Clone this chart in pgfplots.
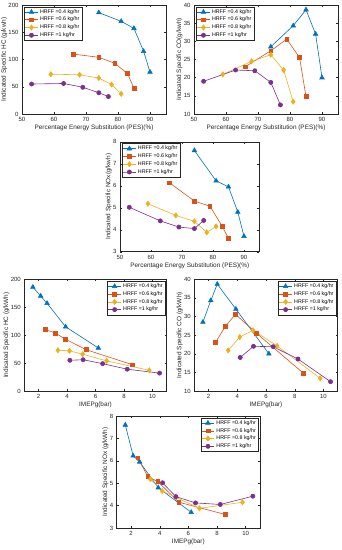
\documentclass[border=0pt]{standalone}
\usepackage{fontspec}
\setmainfont{Liberation Sans}
\usepackage{pgfplots}
\pgfplotsset{compat=1.18}
\definecolor{mblue}{rgb}{0,0.447,0.741}
\definecolor{mred}{rgb}{0.85,0.325,0.098}
\definecolor{myellow}{rgb}{0.929,0.694,0.125}
\definecolor{mpurple}{rgb}{0.494,0.184,0.556}
\definecolor{mtext}{rgb}{0.15,0.15,0.15}
\pgfplotsset{
  base/.style={
    scale only axis,
    axis line style={draw=mtext, line width=0.4pt},
    tick style={draw=mtext, line width=0.35pt},
    major tick length=2pt,
    tick align=inside,
    xtick pos=both, ytick pos=both,
    /pgf/number format/assume math mode=true,
    tick label style={font=\fontsize{6}{6.5}\selectfont, text=mtext},
    label style={font=\fontsize{6.4}{7}\selectfont, text=mtext},
    xlabel style={yshift=3.5pt},
    ylabel style={yshift=-5.5pt},
    legend style={font=\fontsize{5.3}{6}\selectfont, draw=mtext, line width=0.3pt, inner sep=0.6pt, row sep=-1.6pt, cells={anchor=west}},
    legend image code/.code={
      \draw[mark repeat=2,mark phase=2] plot coordinates {(0cm,0cm) (0.22cm,0cm) (0.44cm,0cm)};
    },
  },
  s1/.style={color=mblue, line width=0.6pt, mark=triangle*, mark size=2.6pt, mark options={solid, fill=mblue}},
  s2/.style={color=mred, line width=0.6pt, mark=square*, mark size=1.9pt, mark options={solid, fill=mred}},
  s3/.style={color=myellow, line width=0.6pt, mark=diamond*, mark size=2.6pt, mark options={solid, fill=myellow}},
  s4/.style={color=mpurple, line width=0.6pt, mark=*, mark size=2.1pt, mark options={solid, fill=mpurple}},
  pes/.style={base, xmin=50, xmax=95, xtick={50,60,70,80,90}, xlabel={Percentage Energy Substitution (PES)(\%)},
    legend style={at={(0.015,0.985)}, anchor=north west}},
  imep/.style={base, xmin=1, xmax=11, xtick={2,4,6,8,10}, xlabel={IMEPg(bar)},
    legend style={at={(0.99,0.985)}, anchor=north east}},
}
\begin{document}
\begin{tikzpicture}
\useasboundingbox (0,0) rectangle (342pt,550pt);
% Panel 1: HC vs PES
\begin{axis}[pes, at={(22pt,436pt)}, anchor=south west, width=144pt, height=109pt,
  ymin=0, ymax=200, ytick={0,50,100,150,200}, ylabel={Indicated Specific HC (g/kwh)}]
\addplot[s1] coordinates {(74,186) (81,170) (85,157) (88,115) (90,77)};
\addplot[s2] coordinates {(66,110) (74,104) (79,93) (83,74) (85,47)};
\addplot[s3] coordinates {(59,73) (68,72) (74,66) (78,54) (81,37)};
\addplot[s4] coordinates {(53,55) (63,56) (69,49) (74,39) (77,32)};
\legend{HRFF =0.4 kg/hr, HRFF =0.6 kg/hr, HRFF =0.8 kg/hr, HRFF =1 kg/hr}
\end{axis}
% Panel 2: CO vs PES
\begin{axis}[pes, at={(194pt,436pt)}, anchor=south west, width=144pt, height=109pt,
  ymin=10, ymax=40, ytick={10,15,20,25,30,35,40}, ylabel={Indicated Specific CO(g/kwh)}]
\addplot[s1] coordinates {(74,28.5) (81,34.3) (85,38.7) (88,32) (90,20)};
\addplot[s2] coordinates {(66,23) (74,27.4) (79,30.6) (83,25.5) (85,14.8)};
\addplot[s3] coordinates {(59,20.9) (68,24.5) (74,26.3) (78,22.1) (81,13.4)};
\addplot[s4] coordinates {(53,19) (63,22.1) (69,21.9) (74,18.7) (77,12.5)};
\legend{HRFF =0.4 kg/hr, HRFF =0.6 kg/hr, HRFF =0.8 kg/hr, HRFF =1 kg/hr}
\end{axis}
% Panel 3: NOx vs PES
\begin{axis}[pes, at={(120pt,298.3pt)}, anchor=south west, width=139.5pt, height=110pt,
  ymin=3, ymax=8, ytick={3,4,5,6,7,8}, ylabel={Indicated Specific NOx(g/kwh)}]
\addplot[s1] coordinates {(74,7.6) (81,6.22) (85,5.95) (88,4.8) (90,3.7)};
\addplot[s2] coordinates {(66,6.13) (74,5.3) (79,5.07) (83,4.15) (85,3.6)};
\addplot[s3] coordinates {(59,5.18) (68,4.65) (74,4.38) (78,3.88) (81,4.15)};
\addplot[s4] coordinates {(53,5.02) (63,4.4) (69,4.12) (74,4.05) (77,4.42)};
\legend{HRFF =0.4 kg/hr, HRFF =0.6 kg/hr, HRFF =0.8 kg/hr, HRFF =1 kg/hr}
\end{axis}
% Panel 4: HC vs IMEP
\begin{axis}[imep, at={(24.3pt,159pt)}, anchor=south west, width=142.4pt, height=111.7pt,
  ymin=0, ymax=200, ytick={0,50,100,150,200}, ylabel={Indicated Specific HC (g/kWh)}]
\addplot[s1] coordinates {(1.6,186) (2.15,170) (2.6,157) (3.9,115) (6.2,77)};
\addplot[s2] coordinates {(2.47,110) (3.17,104) (3.87,93) (5.34,74) (8.6,47)};
\addplot[s3] coordinates {(3.36,73) (4.17,72) (5.1,66) (6.78,54) (9.78,37)};
\addplot[s4] coordinates {(4.2,55) (5.13,56) (6.5,49) (8.23,39) (10.5,32)};
\legend{HRFF =0.4 kg/hr, HRFF =0.6 kg/hr, HRFF =0.8 kg/hr, HRFF =1 kg/hr}
\end{axis}
% Panel 5: CO vs IMEP
\begin{axis}[imep, at={(194.3pt,159pt)}, anchor=south west, width=143.4pt, height=111.7pt,
  ymin=10, ymax=40, ytick={10,15,20,25,30,35,40}, ylabel={Indicated Specific CO (g/kWh)}]
\addplot[s1] coordinates {(1.6,28.5) (2.15,34.3) (2.6,38.7) (3.9,32) (6.2,20)};
\addplot[s2] coordinates {(2.47,23) (3.17,27.4) (3.87,30.6) (5.34,25.5) (8.6,14.8)};
\addplot[s3] coordinates {(3.36,20.9) (4.17,24.5) (5.1,26.3) (6.78,22.1) (9.78,13.4)};
\addplot[s4] coordinates {(4.2,19) (5.13,22) (6.5,21.9) (8.23,18.6) (10.5,12.5)};
\legend{HRFF =0.4 kg/hr, HRFF =0.6 kg/hr, HRFF =0.8 kg/hr, HRFF =1 kg/hr}
\end{axis}
% Panel 6: NOx vs IMEP
\begin{axis}[imep, at={(116.7pt,22pt)}, anchor=south west, width=143.3pt, height=112pt,
  ymin=3, ymax=8, ytick={3,4,5,6,7,8}, ylabel={Indicated Specific NOx (g/kWh)}]
\addplot[s1] coordinates {(1.6,7.6) (2.15,6.22) (2.6,5.95) (3.9,4.8) (6.2,3.7)};
\addplot[s2] coordinates {(2.47,6.13) (3.17,5.3) (3.87,5.07) (5.34,4.15) (8.6,3.6)};
\addplot[s3] coordinates {(3.36,5.18) (4.17,4.65) (5.1,4.38) (6.78,3.88) (9.78,4.15)};
\addplot[s4] coordinates {(4.2,5.02) (5.13,4.4) (6.5,4.12) (8.23,4.05) (10.5,4.42)};
\legend{HRFF =0.4 kg/hr, HRFF =0.6 kg/hr, HRFF =0.8 kg/hr, HRFF =1 kg/hr}
\end{axis}
\end{tikzpicture}
\end{document}
